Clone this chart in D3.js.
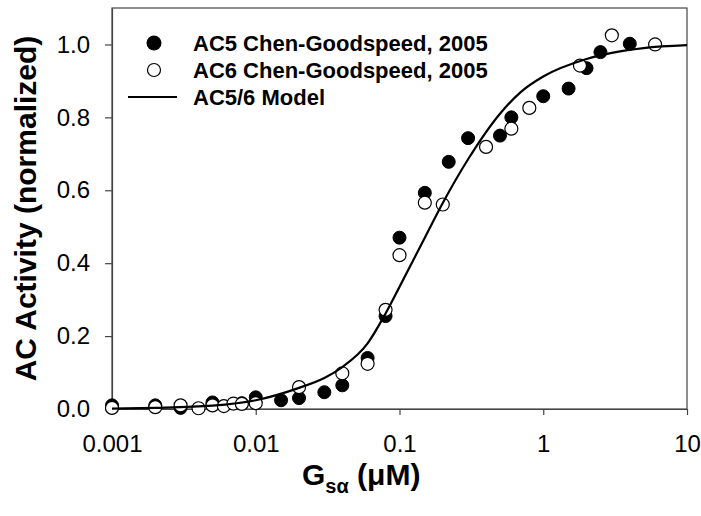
<!DOCTYPE html>
<html>
<head>
<meta charset="utf-8">
<script src="https://cdn.jsdelivr.net/npm/d3@7"></script>
<style>
  body { margin: 0; background: #fff; }
  svg { display: block; font-family: "Liberation Sans", Arial, sans-serif; }
</style>
</head>
<body>
<svg width="701" height="516"></svg>
<script>
// AC5 data (filled circles)
var ac5X = [0.001, 0.002, 0.003, 0.005, 0.008, 0.01, 0.015, 0.02, 0.03, 0.04, 0.06, 0.08, 0.1, 0.15, 0.22, 0.3, 0.5, 0.6, 1.0, 1.5, 2.0, 2.5, 4.0];
var ac5Y = [0.01, 0.01, 0.003, 0.018, 0.016, 0.032, 0.024, 0.03, 0.046, 0.065, 0.14, 0.255, 0.47, 0.593, 0.678, 0.743, 0.75, 0.8, 0.858, 0.879, 0.935, 0.979, 1.002];

// AC6 data (open circles)
var ac6X = [0.001, 0.002, 0.003, 0.004, 0.005, 0.006, 0.007, 0.008, 0.01, 0.02, 0.04, 0.06, 0.08, 0.1, 0.15, 0.2, 0.4, 0.6, 0.8, 1.8, 3.0, 6.0];
var ac6Y = [0.003, 0.005, 0.01, 0.002, 0.01, 0.008, 0.015, 0.014, 0.016, 0.06, 0.098, 0.124, 0.272, 0.422, 0.566, 0.561, 0.719, 0.769, 0.826, 0.942, 1.025, 1.0];

// model curve
var modelX = [0.001, 0.002, 0.005, 0.01, 0.02, 0.03, 0.04, 0.06, 0.08, 0.1, 0.15, 0.2, 0.3, 0.5, 0.7, 1, 2, 3, 5, 10];
var modelY = [0.001, 0.003, 0.009, 0.024, 0.058, 0.085, 0.115, 0.18, 0.262, 0.335, 0.47, 0.565, 0.685, 0.81, 0.87, 0.912, 0.96, 0.977, 0.99, 0.998];

var xTicks = [0.001, 0.01, 0.1, 1, 10];
var xTickLabels = ["0.001", "0.01", "0.1", "1", "10"];
var yTicks = [0, 0.2, 0.4, 0.6, 0.8, 1.0];

var legendNames = ["AC5 Chen-Goodspeed, 2005", "AC6 Chen-Goodspeed, 2005", "AC5/6 Model"];

// plot box (window.top is reserved, so prefixed names)
var pLeft = 112, pRight = 687, pTop = 8, pBottom = 409;

var svg = d3.select("svg");

var x = d3.scaleLog()
    .domain([0.001, 10])
    .range([pLeft, pRight]);

var y = d3.scaleLinear()
    .domain([0, 1.1])
    .range([pBottom, pTop]);

// frame
svg.append("rect")
    .attr("x", pLeft)
    .attr("y", pTop)
    .attr("width", pRight - pLeft)
    .attr("height", pBottom - pTop)
    .attr("fill", "none")
    .attr("stroke", "#444")
    .attr("stroke-width", 1.2);

// axes
var xAxis = d3.axisBottom(x)
    .tickValues(xTicks)
    .tickFormat(function(d, i) { return xTickLabels[i]; })
    .tickSize(6)
    .tickPadding(20)
    .tickSizeOuter(0);

var yAxis = d3.axisLeft(y)
    .tickValues(yTicks)
    .tickFormat(d3.format(".1f"))
    .tickSize(7)
    .tickPadding(15)
    .tickSizeOuter(0);

var gx = svg.append("g")
    .attr("transform", "translate(0," + pBottom + ")")
    .call(xAxis);
var gy = svg.append("g")
    .attr("transform", "translate(" + pLeft + ",0)")
    .call(yAxis);

[gx, gy].forEach(function(g) {
    g.select(".domain").attr("stroke", "#444").attr("stroke-width", 1.2);
    g.selectAll(".tick line").attr("stroke", "#444").attr("stroke-width", 1.2);
    g.selectAll("text")
        .attr("fill", "#000")
        .style("font-size", "24px")
        .style("font-family", "'Liberation Sans', Arial, sans-serif");
});

// data points
var ac5 = ac5X.map(function(d, i) { return {x: d, y: ac5Y[i]}; });
var ac6 = ac6X.map(function(d, i) { return {x: d, y: ac6Y[i]}; });

svg.append("g").selectAll("circle")
    .data(ac5)
    .enter()
    .append("circle")
    .attr("cx", function(d) { return x(d.x); })
    .attr("cy", function(d) { return y(d.y); })
    .attr("r", 6.5)
    .attr("fill", "#000")
    .attr("stroke", "#000")
    .attr("stroke-width", 1);

svg.append("g").selectAll("circle")
    .data(ac6)
    .enter()
    .append("circle")
    .attr("cx", function(d) { return x(d.x); })
    .attr("cy", function(d) { return y(d.y); })
    .attr("r", 6.5)
    .attr("fill", "#fff")
    .attr("stroke", "#000")
    .attr("stroke-width", 1.2);

// model line
var model = modelX.map(function(d, i) { return {x: d, y: modelY[i]}; });
var line = d3.line()
    .x(function(d) { return x(d.x); })
    .y(function(d) { return y(d.y); })
    .curve(d3.curveMonotoneX);

svg.append("path")
    .datum(model)
    .attr("d", line)
    .attr("fill", "none")
    .attr("stroke", "#000")
    .attr("stroke-width", 2.2);

// legend
var legend = svg.append("g");
var rowY = [43, 70, 97];

legend.append("circle")
    .attr("cx", 154).attr("cy", rowY[0]).attr("r", 7.5)
    .attr("fill", "#000");
legend.append("circle")
    .attr("cx", 154).attr("cy", rowY[1]).attr("r", 6.5)
    .attr("fill", "#fff").attr("stroke", "#000").attr("stroke-width", 1.2);
legend.append("line")
    .attr("x1", 128).attr("x2", 177)
    .attr("y1", rowY[2]).attr("y2", rowY[2])
    .attr("stroke", "#000").attr("stroke-width", 2.2);

legend.selectAll("text")
    .data(legendNames)
    .enter()
    .append("text")
    .attr("x", 193)
    .attr("y", function(d, i) { return rowY[i]; })
    .attr("dy", "0.36em")
    .style("font-size", "22px")
    .style("font-weight", "bold")
    .text(function(d) { return d; });

// axis titles
svg.append("text")
    .attr("transform", "translate(36," + ((pTop + pBottom) / 2) + ") rotate(-90)")
    .attr("text-anchor", "middle")
    .style("font-size", "30px")
    .style("font-weight", "bold")
    .text("AC Activity (normalized)");

var xt = svg.append("text")
    .attr("x", 302)
    .attr("y", 485)
    .style("font-size", "30px")
    .style("font-weight", "bold");
xt.append("tspan").text("G");
xt.append("tspan").attr("dy", 8).style("font-size", "20px").text("sα");
xt.append("tspan").attr("dy", -8).text(" (μM)");
</script>
</body>
</html>
